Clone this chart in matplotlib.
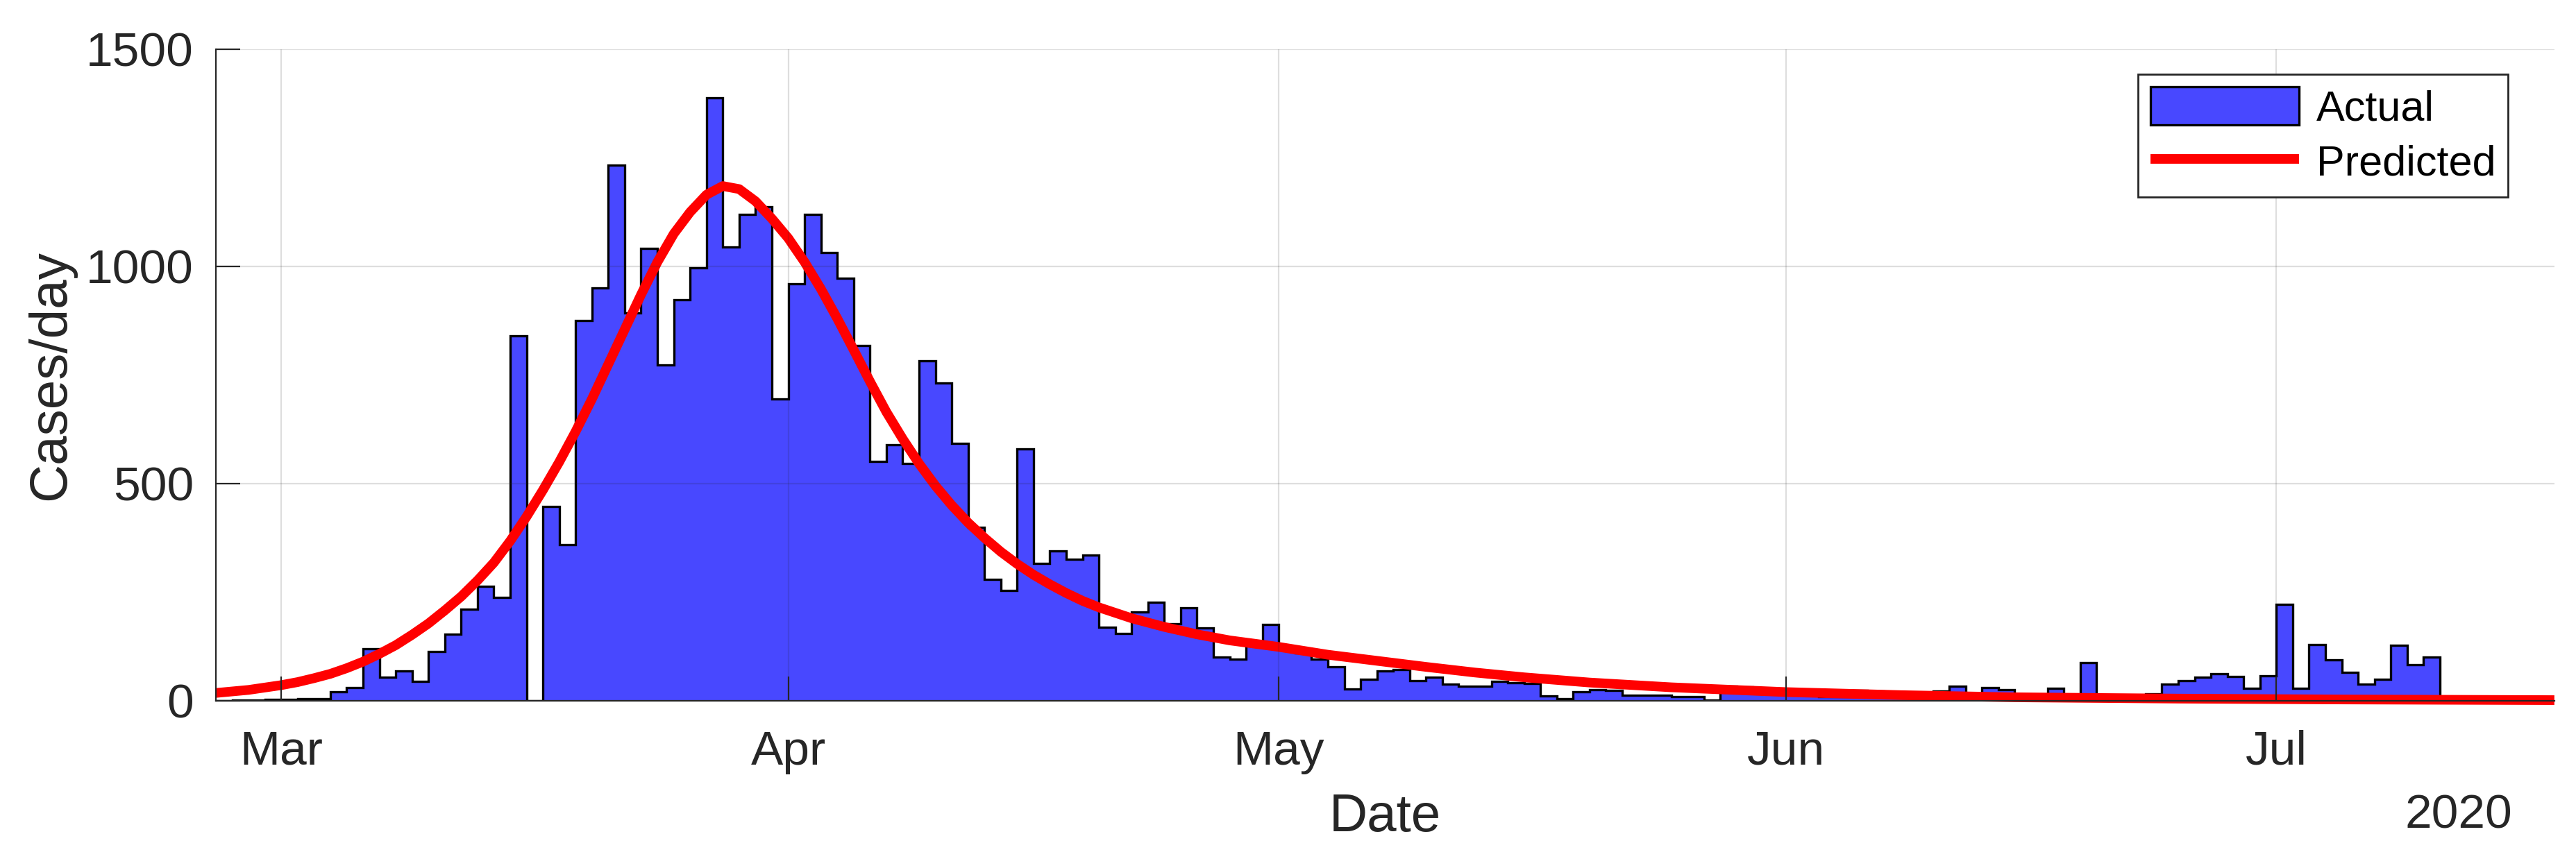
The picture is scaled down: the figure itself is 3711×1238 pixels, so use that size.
import numpy as np
import pandas as pd
import matplotlib
matplotlib.use("Agg")
import matplotlib.pyplot as plt
import matplotlib.dates as mdates

plt.rcParams['font.family'] = ['Liberation Sans', 'DejaVu Sans']

# ── Data ─────────────────────────────────────────────────────────────────────
# daily reported cases, 2020-02-26 .. 2020-07-10
cases_feb = [0, 2, 2, 3]
cases_mar = [3, 4, 5, 20, 30, 120, 55, 68, 44, 113, 153, 210, 264, 238, 840, 0,
             448, 360, 876, 950, 1233, 893, 1042, 773, 923, 996, 1388, 1045,
             1120, 1138, 695]
cases_apr = [960, 1120, 1032, 972, 818, 551, 590, 546, 783, 732, 592, 399, 280,
             254, 580, 316, 345, 326, 336, 169, 155, 204, 226, 178, 214, 168,
             101, 95, 135, 176]
cases_may = [120, 110, 95, 78, 27, 50, 68, 72, 46, 54, 39, 34, 34, 45, 42, 40,
             11, 5, 21, 25, 24, 13, 12, 12, 10, 9, 2, 34, 32, 18, 17]
cases_jun = [15, 12, 10, 10, 24, 22, 8, 8, 8, 22, 33, 16, 30, 25, 4, 10, 29, 10,
             88, 0, 0, 10, 16, 39, 46, 54, 63, 56, 28, 57]
cases_jul = [222, 28, 130, 94, 66, 39, 49, 127, 83, 101]

actual = cases_feb + cases_mar + cases_apr + cases_may + cases_jun + cases_jul
actual_start = "2020-02-26"

# predicted curve, sampled where it was read
pred_dates = ["2020-02-26", "2020-02-28", "2020-03-01", "2020-03-02", "2020-03-03",
              "2020-03-04", "2020-03-05", "2020-03-06", "2020-03-07", "2020-03-08",
              "2020-03-09", "2020-03-10", "2020-03-11", "2020-03-12", "2020-03-13",
              "2020-03-14", "2020-03-15", "2020-03-16", "2020-03-17", "2020-03-18",
              "2020-03-19", "2020-03-20", "2020-03-21", "2020-03-22", "2020-03-23",
              "2020-03-24", "2020-03-25", "2020-03-26", "2020-03-27", "2020-03-28",
              "2020-03-29", "2020-03-30", "2020-03-31", "2020-04-01", "2020-04-02",
              "2020-04-03", "2020-04-04", "2020-04-05", "2020-04-06", "2020-04-07",
              "2020-04-08", "2020-04-09", "2020-04-10", "2020-04-11", "2020-04-12",
              "2020-04-13", "2020-04-14", "2020-04-15", "2020-04-16", "2020-04-17",
              "2020-04-18", "2020-04-19", "2020-04-20", "2020-04-22", "2020-04-24",
              "2020-04-26", "2020-04-28", "2020-05-01", "2020-05-04", "2020-05-07",
              "2020-05-10", "2020-05-13", "2020-05-16", "2020-05-20", "2020-05-25",
              "2020-06-01", "2020-06-08", "2020-06-15", "2020-06-25", "2020-07-05",
              "2020-07-18"]
pred_vals = [18, 25, 36, 43, 52, 62, 75, 90, 108, 128,
             152, 178, 208, 240, 277, 318, 368, 424, 485, 550,
             620, 695, 775, 855, 935, 1010, 1075, 1125, 1165, 1185,
             1178, 1150, 1110, 1065, 1010, 948, 880, 808, 735, 665,
             603, 546, 495, 450, 410, 375, 343, 315, 290, 268,
             248, 230, 215, 190, 170, 153, 139, 124, 106, 92,
             78, 65, 54, 42, 31, 20, 13, 8, 5, 3,
             1.5]

month_ticks = ["2020-03-01", "2020-04-01", "2020-05-01", "2020-06-01", "2020-07-01"]
x_range = ("2020-02-26", "2020-07-18")

# ── Styling ──────────────────────────────────────────────────────────────────
DARK = "#262626"
BLUE = "#4848ff"

fig = plt.figure(figsize=(37.11, 12.38), dpi=100)
ax = fig.add_axes([0.0838, 0.1842, 0.9078, 0.7585])

# bar edges: each day spans [day, day + 1]
edges = pd.date_range(actual_start, periods=len(actual) + 1, freq="D")
bars = ax.stairs(actual, mdates.date2num(edges), fill=True, baseline=0,
                 facecolor=BLUE, edgecolor="black", linewidth=2.4,
                 label="Actual", zorder=1)
line, = ax.plot(mdates.date2num(pd.to_datetime(pred_dates)), pred_vals,
                color="red", linewidth=10, solid_capstyle="butt",
                solid_joinstyle="round", label="Predicted", zorder=2,
                clip_on=False)

ax.set_xlim(mdates.date2num(pd.to_datetime(list(x_range))))
ax.set_ylim(0, 1500)
ax.set_yticks([0, 500, 1000, 1500])
ax.set_xticks(mdates.date2num(pd.to_datetime(month_ticks)))
ax.xaxis.set_major_formatter(mdates.DateFormatter("%b"))

ax.set_axisbelow(False)
ax.grid(True, color="#262626", alpha=0.15, linewidth=1.6)

for side in ["top", "right"]:
    ax.spines[side].set_visible(False)
for side in ["left", "bottom"]:
    ax.spines[side].set_color(DARK)
    ax.spines[side].set_linewidth(1.6)

ax.tick_params(axis="both", direction="in", length=25, width=1.6,
               colors=DARK, labelsize=50)
ax.tick_params(axis="x", pad=30)
ax.tick_params(axis="y", pad=23)

ax.set_xlabel("Date", fontsize=55, color=DARK)
ax.set_ylabel("Cases/day", fontsize=55, color=DARK)
ax.xaxis.set_label_coords(0.5, -0.142)
ax.yaxis.set_label_coords(-0.060, 0.5)

ax.text(0.982, -0.195, "2020", transform=ax.transAxes, ha="right",
        va="baseline", fontsize=50, color=DARK)

leg = ax.legend([bars, line], ["Actual", "Predicted"], loc="upper right",
                bbox_to_anchor=(0.9803, 0.962),
                fontsize=44, frameon=True, fancybox=False, framealpha=1,
                handlelength=3.5, handleheight=1.0, handletextpad=0.4,
                borderpad=0.3, labelspacing=0.3, borderaxespad=0)
leg.get_frame().set_edgecolor(DARK)
leg.get_frame().set_linewidth(2.0)

fig.savefig("out.png", dpi=100)
